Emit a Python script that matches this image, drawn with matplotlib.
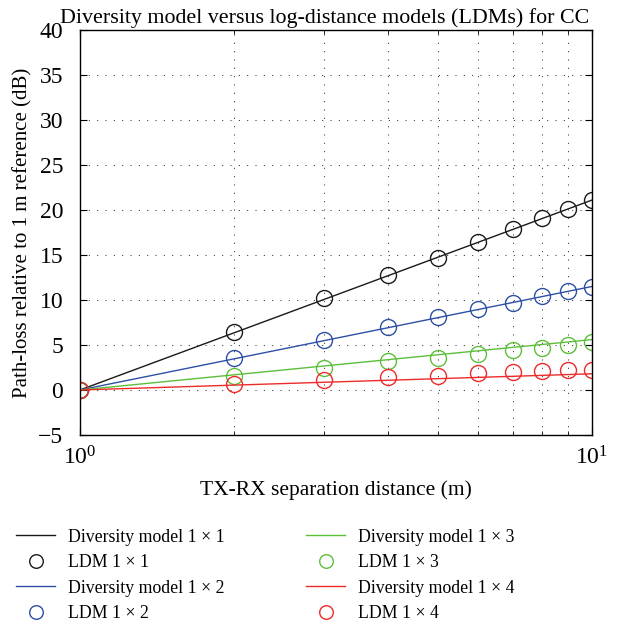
import numpy as np
import matplotlib
matplotlib.use("Agg")
import matplotlib.pyplot as plt
from matplotlib.ticker import FixedLocator, FixedFormatter, NullFormatter

plt.rcParams["font.family"] = ["Liberation Serif", "DejaVu Serif"]
plt.rcParams["mathtext.fontset"] = "custom"
plt.rcParams["mathtext.rm"] = "Liberation Serif"

# distances (m) where the LDM points are evaluated
distance = [1, 2, 3, 4, 5, 6, 7, 8, 9, 10]

# diversity model: straight line in log-distance, value at 1 m and 10 m
model_ends = [1, 10]
model_11 = [0, 21.1]
model_12 = [0, 11.5]
model_13 = [0, 5.6]
model_14 = [0, 1.8]

# log-distance model points
ldm_11 = [0, 6.5, 10.2, 12.8, 14.7, 16.5, 17.9, 19.1, 20.1, 21.1]
ldm_12 = [0, 3.6, 5.55, 7.0, 8.1, 9.0, 9.7, 10.4, 11.0, 11.5]
ldm_13 = [0, 1.6, 2.5, 3.2, 3.6, 4.05, 4.45, 4.7, 5.0, 5.3]
ldm_14 = [0, 0.67, 1.1, 1.45, 1.56, 1.85, 1.96, 2.1, 2.2, 2.25]

labels = ["1 × 1", "1 × 2", "1 × 3", "1 × 4"]
colors = ["#1a1a1a", "#2d4fa6", "#5cbf3a", "#ee2a2a"]

fig = plt.figure(figsize=(6.29, 6.25), dpi=100)
ax = fig.add_axes([0.127, 0.304, 0.814, 0.648])

models = [model_11, model_12, model_13, model_14]
ldms = [ldm_11, ldm_12, ldm_13, ldm_14]
for m, l, lab, c in zip(models, ldms, labels, colors):
    ax.plot(model_ends, m, color=c, lw=1.0, label="Diversity model " + lab)
    ax.plot(distance, l, linestyle="none", marker="o", ms=11.5, mfc="none",
            mec=c, mew=1.0, label="LDM " + lab)

ax.set_xscale("log")
ax.set_xlim(1, 10)
ax.set_ylim(-5, 40)
ax.set_yticks(np.arange(-5, 41, 5))
ax.xaxis.set_major_locator(FixedLocator([1, 10]))
ax.xaxis.set_major_formatter(FixedFormatter([r"$\mathregular{10^0}$", r"$\mathregular{10^1}$"]))
ax.xaxis.set_minor_locator(FixedLocator([2, 3, 4, 5, 6, 7, 8, 9]))
ax.xaxis.set_minor_formatter(NullFormatter())

dots = (0, (1, 7))
ax.grid(True, which="major", linestyle=dots, color="#333333", lw=0.75)
ax.grid(True, which="minor", axis="x", linestyle=dots, color="#333333", lw=0.75)
ax.tick_params(which="both", direction="in", top=True, right=True, labelsize=17)
ax.tick_params(which="major", length=5)
ax.tick_params(axis="y", pad=12)
ax.tick_params(axis="x", pad=8)
ax.tick_params(which="minor", length=3)
for s in ax.spines.values():
    s.set_linewidth(1.0)

ax.set_title("Diversity model versus log-distance models (LDMs) for CC", fontsize=15.8,
             pad=5, x=0.478)
ax.set_xlabel("TX-RX separation distance (m)", fontsize=15.5, labelpad=8)
ax.set_ylabel("Path-loss relative to 1 m reference (dB)", fontsize=15, labelpad=4)

fig.legend(loc="upper left", bbox_to_anchor=(0.0, 0.18), ncol=2, frameon=False,
           fontsize=12.8, handlelength=2.2, columnspacing=4.6, labelspacing=0.48,
           handletextpad=0.7, markerscale=0.85)

fig.savefig("out.png", dpi=100)
